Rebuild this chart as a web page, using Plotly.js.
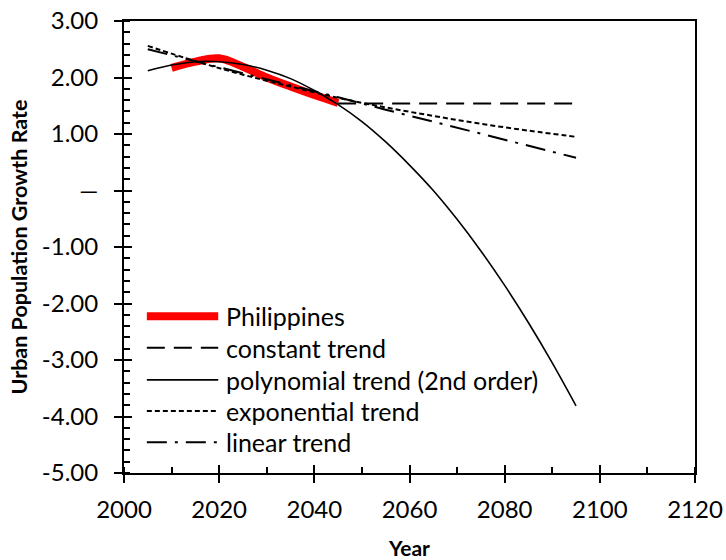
<!DOCTYPE html>
<html>
<head>
<meta charset="utf-8">
<script src="https://cdn.plot.ly/plotly-3.0.1.min.js"></script>
<style>html,body{margin:0;padding:0;background:#fff;}#chart{width:726px;height:560px;}</style>
</head>
<body>
<div id="chart"></div>
<script>
// ---- data ----
const dataYears = [2010, 2015, 2020, 2025, 2030, 2035, 2040, 2045];
const philippines = [2.17, 2.28, 2.34, 2.19, 2.00, 1.84, 1.69, 1.55];

const constYears = [2045, 2095];
const constantTrend = [1.54, 1.54];

const polyYears = [2005, 2010, 2015, 2020, 2025, 2030, 2035, 2040, 2045, 2050,
                   2055, 2060, 2065, 2070, 2075, 2080, 2085, 2090, 2095];
const polyTrend = [2.12, 2.22, 2.28, 2.28, 2.23, 2.13, 1.98, 1.77, 1.52, 1.22,
                   0.86, 0.45, 0.00, -0.51, -1.07, -1.68, -2.34, -3.05, -3.81];

const trendYears = [2005, 2015, 2025, 2035, 2045, 2055, 2065, 2075, 2085, 2095];
const expTrend = [2.56, 2.29, 2.05, 1.84, 1.64, 1.47, 1.32, 1.18, 1.06, 0.95];
const linTrend = [2.50, 2.29, 2.07, 1.86, 1.65, 1.43, 1.22, 1.01, 0.79, 0.58];

const yTickVals = [3, 2, 1, 0, -1, -2, -3, -4, -5];
const yTickText = ['3.00', '2.00', '1.00', '\u2014', '-1.00', '-2.00', '-3.00', '-4.00', '-5.00'];

const seriesNames = ['Philippines', 'constant trend', 'polynomial trend (2nd order)', 'exponential trend', 'linear trend'];

// ---- styles ----
const FONT = 'Lato, "Open Sans", sans-serif';
const styles = [
  {color: '#ff0000', width: 8, dash: 'solid'},
  {color: '#000000', width: 2, dash: '18px,9px'},
  {color: '#000000', width: 1.6, dash: 'solid'},
  {color: '#000000', width: 2, dash: '5px,3px'},
  {color: '#000000', width: 2, dash: '20px,8px,3px,8px'}
];

const traces = [
  {x: dataYears, y: philippines, mode: 'lines', line: Object.assign({shape: 'spline'}, styles[0]), name: seriesNames[0]},
  {x: constYears, y: constantTrend, mode: 'lines', line: styles[1], name: seriesNames[1]},
  {x: polyYears, y: polyTrend, mode: 'lines', line: Object.assign({shape: 'spline'}, styles[2]), name: seriesNames[2]},
  {x: trendYears, y: expTrend, mode: 'lines', line: Object.assign({shape: 'spline'}, styles[3]), name: seriesNames[3]},
  {x: trendYears, y: linTrend, mode: 'lines', line: styles[4], name: seriesNames[4]},
  {x: [], y: [], xaxis: 'x2', yaxis: 'y2', showlegend: false, hoverinfo: 'skip'}
];

// manual legend (long line samples as in the reference)
const legX0 = 0.040, legX1 = 0.165, legTextX = 0.175;
const legRows = [0.347, 0.277, 0.206, 0.137, 0.068];
const shapes = [], annotations = [];
seriesNames.forEach((n, i) => {
  shapes.push({type: 'line', xref: 'paper', yref: 'paper', x0: legX0, x1: legX1, y0: legRows[i], y1: legRows[i],
    line: {color: styles[i].color, width: styles[i].width, dash: styles[i].dash}});
  annotations.push({xref: 'paper', yref: 'paper', x: legTextX, y: legRows[i], xanchor: 'left', yanchor: 'middle',
    text: n, showarrow: false, font: {family: FONT, size: 25, color: '#000'}});
});

const axisCommon = {
  showgrid: false, zeroline: false, showline: true, linecolor: '#000', linewidth: 2,
  mirror: true, ticks: 'outside', ticklen: 8, tickwidth: 2, tickcolor: '#000',
  tickfont: {family: FONT, size: 24, color: '#000'}
};

const layout = {
  width: 726, height: 560,
  margin: {l: 124, r: 31, t: 21, b: 87},
  paper_bgcolor: '#fff', plot_bgcolor: '#fff',
  showlegend: false,
  font: {family: FONT, color: '#000'},
  xaxis: Object.assign({}, axisCommon, {
    range: [2000, 2120], dtick: 20, tick0: 2000, ticklabelstandoff: 6,
    minor: {ticks: 'inside', dtick: 10, ticklen: 6, tickwidth: 2, tickcolor: '#000'},
    title: {text: 'Year', font: {family: FONT, size: 21, color: '#000', weight: 'bold'}, standoff: 21}
  }),
  yaxis: Object.assign({}, axisCommon, {
    range: [-5, 3], tickmode: 'array', tickvals: yTickVals, ticktext: yTickText, ticklabelstandoff: 11,
    minor: {ticks: 'inside', dtick: 0.2, ticklen: 6, tickwidth: 2, tickcolor: '#000'},
    title: {text: 'Urban Population Growth Rate', font: {family: FONT, size: 21.5, color: '#000', weight: 'bold'}, standoff: 8}
  }),
  xaxis2: {overlaying: 'x', anchor: 'y', side: 'bottom', range: [2000, 2120], dtick: 20, tick0: 2000,
    ticks: 'inside', ticklen: 8, tickwidth: 2, tickcolor: '#000', showticklabels: false, showgrid: false, zeroline: false, showline: false},
  yaxis2: {overlaying: 'y', anchor: 'x', side: 'left', range: [-5, 3], dtick: 1,
    ticks: 'inside', ticklen: 8, tickwidth: 2, tickcolor: '#000', showticklabels: false, showgrid: false, zeroline: false, showline: false},
  shapes: shapes,
  annotations: annotations
};

Plotly.newPlot('chart', traces, layout, {staticPlot: true, displayModeBar: false});
</script>
</body>
</html>
